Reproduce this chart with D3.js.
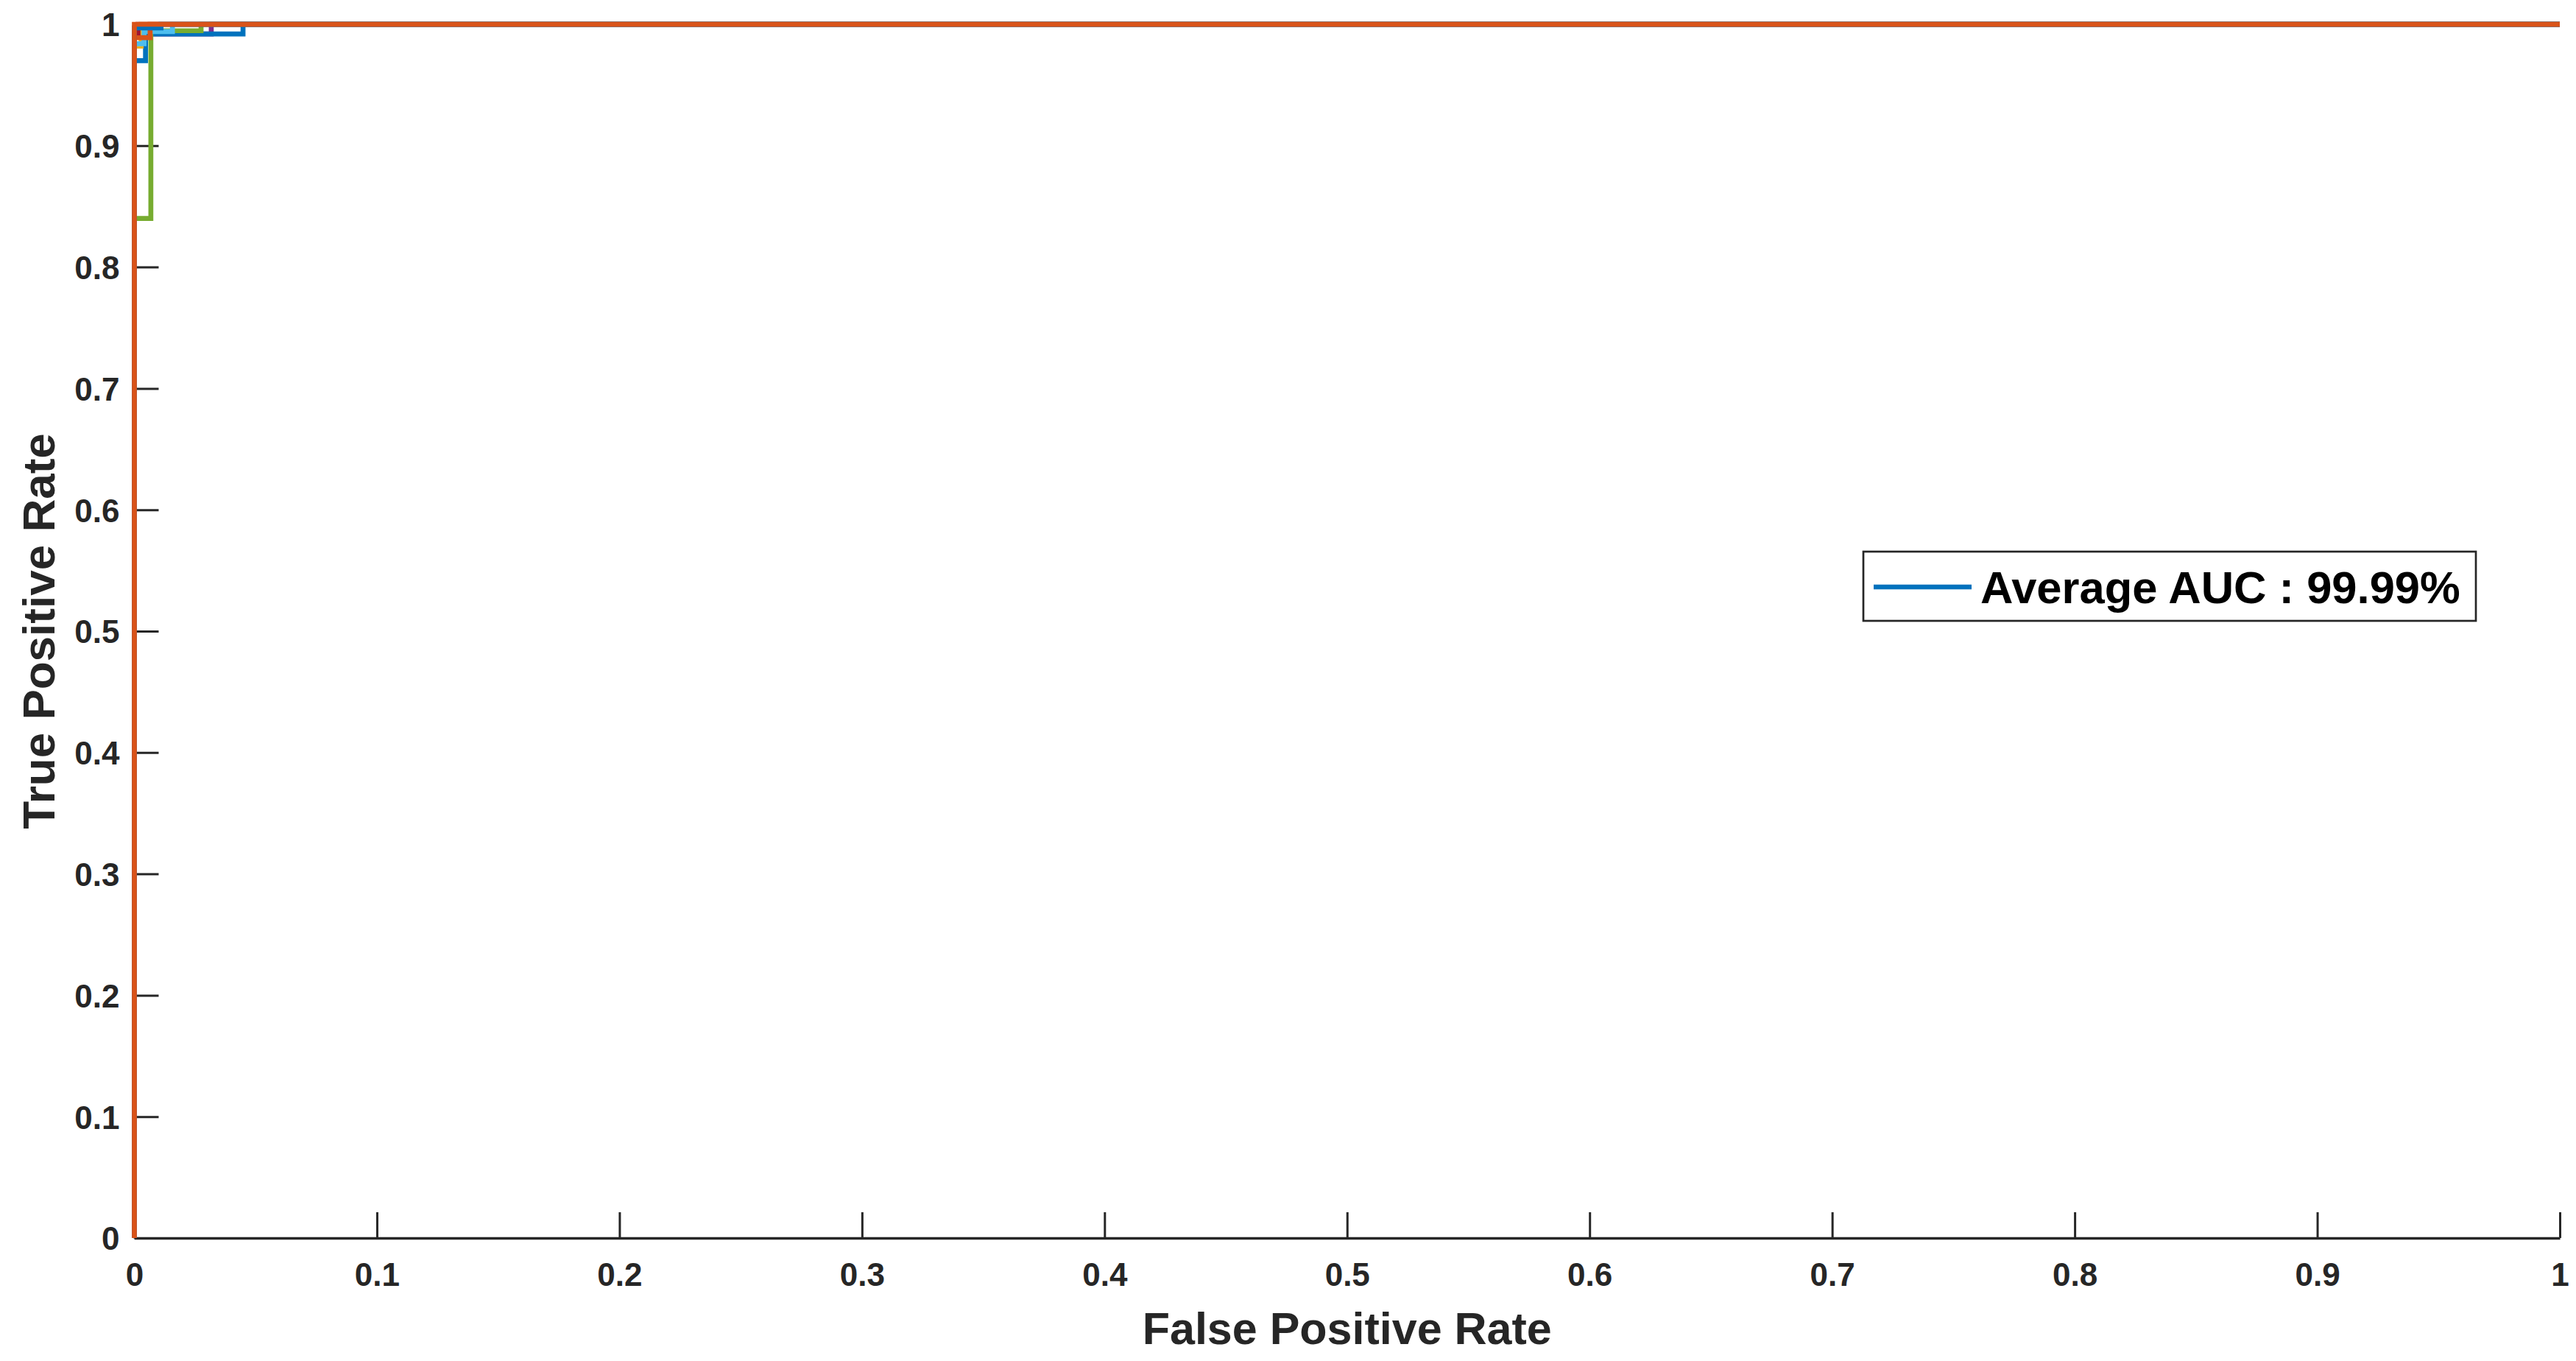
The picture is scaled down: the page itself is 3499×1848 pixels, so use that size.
<!DOCTYPE html>
<html>
<head>
<meta charset="utf-8">
<script src="https://cdn.jsdelivr.net/npm/d3@7"></script>
<style>
  html, body { margin: 0; padding: 0; background: #fff; }
  svg { display: block; font-family: "Liberation Sans", Arial, Helvetica, sans-serif; }
</style>
</head>
<body>
<div id="roc"></div>
<script>
// ROC curves, one per class (in drawing order)
const fprPurple = [0, 0, 0.0317, 0.0317, 1];
const tprPurple = [0, 0.992, 0.992, 1, 1];

const fprBlue = [0, 0, 0.0046, 0.0046, 0.0448, 0.0448, 1];
const tprBlue = [0, 0.970, 0.970, 0.992, 0.992, 1, 1];

const fprYellow = [0, 0, 0.0028, 0.0028, 1];
const tprYellow = [0, 0.982, 0.982, 1, 1];

const fprGreen = [0, 0, 0.0068, 0.0068, 0.0275, 0.0275, 1];
const tprGreen = [0, 0.84, 0.84, 0.9947, 0.9947, 1, 1];

const fprLightBlue = [0, 0, 0.004, 0.004, 0.0157, 0.0157, 1];
const tprLightBlue = [0, 0.984, 0.984, 0.994, 0.994, 1, 1];

const fprOrange2 = [0, 0, 0.0065, 0.0065, 1];
const tprOrange2 = [0, 0.989, 0.989, 1, 1];

const fprRed = [0, 0, 0.0015, 0.0015, 1];
const tprRed = [0, 0.993, 0.993, 1, 1];

const fprBlue2 = [0, 0, 0.011, 0.011, 1];
const tprBlue2 = [0, 0.997, 0.997, 1, 1];

const fprOrange = [0, 0, 1];
const tprOrange = [0, 1, 1];

const curves = [
    [fprPurple, tprPurple, '#7E2F8E'],
    [fprBlue, tprBlue, '#0072BD'],
    [fprYellow, tprYellow, '#EDB120'],
    [fprGreen, tprGreen, '#77AC30'],
    [fprLightBlue, tprLightBlue, '#4DBEEE'],
    [fprOrange2, tprOrange2, '#D95319'],
    [fprRed, tprRed, '#A2142F'],
    [fprBlue2, tprBlue2, '#0072BD'],
    [fprOrange, tprOrange, '#D95319'],
];

const xTicks = [0, 0.1, 0.2, 0.3, 0.4, 0.5, 0.6, 0.7, 0.8, 0.9, 1];
const yTicks = [0, 0.1, 0.2, 0.3, 0.4, 0.5, 0.6, 0.7, 0.8, 0.9, 1];
const legendLabel = 'Average AUC : 99.99%';

// Layout
const width = 3499;
const height = 1848;
const margin = { top: 33, right: 22, bottom: 167, left: 182.5 };
const innerW = width - margin.left - margin.right;
const innerH = height - margin.top - margin.bottom;
const axisColor = '#262626';

const svg = d3.select('#roc')
    .append('svg')
    .attr('width', width)
    .attr('height', height);

const g = svg.append('g')
    .attr('transform', `translate(${margin.left}, ${margin.top})`);

const x = d3.scaleLinear().domain([0, 1]).range([0, innerW]);
const y = d3.scaleLinear().domain([0, 1]).range([innerH, 0]);

const fmt = d => (d === 0 || d === 1) ? String(d) : d.toFixed(1);

// Bottom axis, ticks pointing inward
const xAxis = g.append('g')
    .attr('transform', `translate(0, ${innerH})`)
    .call(d3.axisBottom(x).tickValues(xTicks).tickFormat(fmt)
        .tickSizeInner(-35).tickSizeOuter(0).tickPadding(65));

// Left axis, ticks pointing inward
const yAxis = g.append('g')
    .call(d3.axisLeft(y).tickValues(yTicks).tickFormat(fmt)
        .tickSizeInner(-33).tickSizeOuter(0).tickPadding(20));

[xAxis, yAxis].forEach(ax => {
    ax.select('.domain').attr('stroke', axisColor).attr('stroke-width', 3.3);
    ax.selectAll('.tick line').attr('stroke', axisColor).attr('stroke-width', 3);
    ax.selectAll('.tick text')
        .attr('fill', axisColor)
        .attr('font-size', 44)
        .attr('font-weight', 'bold')
        .attr('font-family', '"Liberation Sans", Arial, sans-serif');
});
xAxis.selectAll('.tick text').attr('dy', 0);
yAxis.selectAll('.tick text').attr('dy', '0.36em');

// ROC lines
const line = d3.line()
    .x(d => x(d[0]))
    .y(d => y(d[1]));

g.selectAll('path.roc')
    .data(curves)
    .enter()
    .append('path')
    .attr('class', 'roc')
    .attr('d', c => line(c[0].map((f, i) => [f, c[1][i]])))
    .attr('fill', 'none')
    .attr('stroke', c => c[2])
    .attr('stroke-width', 6.7)
    .attr('stroke-linejoin', 'miter')
    .attr('stroke-linecap', 'butt');

// Axis labels
svg.append('text')
    .attr('x', margin.left + innerW / 2)
    .attr('y', 1825)
    .attr('text-anchor', 'middle')
    .attr('font-size', 61)
    .attr('font-weight', 'bold')
    .attr('fill', axisColor)
    .text('False Positive Rate');

svg.append('text')
    .attr('transform', `translate(74, ${margin.top + innerH / 2}) rotate(-90)`)
    .attr('text-anchor', 'middle')
    .attr('font-size', 62)
    .attr('font-weight', 'bold')
    .attr('fill', axisColor)
    .text('True Positive Rate');

// Legend
const legend = svg.append('g').attr('transform', 'translate(2531, 749)');
legend.append('rect')
    .attr('width', 832)
    .attr('height', 94)
    .attr('fill', '#fff')
    .attr('stroke', axisColor)
    .attr('stroke-width', 2.7);
legend.append('line')
    .attr('x1', 14).attr('x2', 147)
    .attr('y1', 48).attr('y2', 48)
    .attr('stroke', '#0072BD')
    .attr('stroke-width', 6.7);
legend.append('text')
    .attr('x', 159)
    .attr('y', 70)
    .attr('font-size', 61.5)
    .attr('font-weight', 'bold')
    .attr('fill', '#000')
    .text(legendLabel);
</script>
</body>
</html>
